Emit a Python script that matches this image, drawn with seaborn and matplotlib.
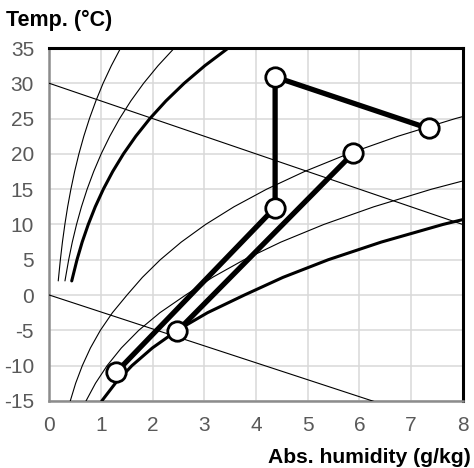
import matplotlib
matplotlib.use("Agg")
import matplotlib.pyplot as plt
import seaborn as sns
import pandas as pd

# ---- data ----
# relative-humidity curves (abs. humidity g/kg vs temperature °C)
t_low = [-15, -12.5, -10, -7.5, -5, -2.5, 0, 2.5, 5, 7.5, 10, 12.5, 15, 17.5, 20, 22.5, 25, 27.5]
rh100_x = [1.016, 1.278, 1.600, 1.994, 2.476, 3.063, 3.775, 4.521, 5.398, 6.423, 7.618, 9.010]
rh70_x = [0.711, 0.894, 1.119, 1.394, 1.731, 2.141, 2.638, 3.158, 3.769, 4.482, 5.313, 6.279, 7.399, 8.695]
rh40_x = [0.406, 0.510, 0.639, 0.796, 0.988, 1.222, 1.504, 1.801, 2.148, 2.553, 3.025, 3.573,
          4.207, 4.939, 5.781, 6.748, 7.857, 9.126]

t_high = [2, 5, 7.5, 10, 12.5, 15, 17.5, 20, 22.5, 25, 27.5, 30, 32.5, 35]
rh10_x = [0.434, 0.536, 0.636, 0.754, 0.889, 1.046, 1.227, 1.435, 1.674, 1.946, 2.257, 2.610, 3.011, 3.465]
rh7_x = [0.303, 0.375, 0.445, 0.527, 0.622, 0.732, 0.859, 1.004, 1.171, 1.361, 1.578, 1.825, 2.105, 2.421]
rh4_x = [0.173, 0.214, 0.254, 0.301, 0.355, 0.418, 0.490, 0.573, 0.668, 0.777, 0.901, 1.041, 1.201, 1.381]

# enthalpy lines
h30_x = [0, 8]
h30_t = [30, 10]
h0_x = [0, 8]
h0_t = [0, -19.2]

# process points
proc1_x = [1.30, 4.37, 4.37, 7.34]
proc1_t = [-10.9, 12.4, 30.9, 23.6]
proc2_x = [2.48, 5.88]
proc2_t = [-5.1, 20.1]

x_ticks = [0, 1, 2, 3, 4, 5, 6, 7, 8]
y_ticks = [-15, -10, -5, 0, 5, 10, 15, 20, 25, 30, 35]

# ---- style ----
sns.set_theme(style="white")
plt.rcParams['font.family'] = ['Liberation Sans', 'DejaVu Sans']

fig = plt.figure(figsize=(4.74, 4.68), dpi=100)
ax = fig.add_axes([49.3 / 474, 1 - 400.9 / 468, (462.7 - 49.3) / 474, (400.9 - 48) / 468])

def curve(xs, ts, lw, z=3):
    n = min(len(xs), len(ts))
    df = pd.DataFrame({"x": xs[:n], "t": ts[:n]})
    sns.lineplot(data=df, x="x", y="t", sort=False, estimator=None, color="black",
                 linewidth=lw, ax=ax, zorder=z)

curve(rh100_x, t_low, 2.2)
curve(rh70_x, t_low, 0.8)
curve(rh40_x, t_low, 0.8)
curve(rh10_x, t_high, 2.2)
curve(rh7_x, t_high, 0.8)
curve(rh4_x, t_high, 0.8)
curve(h30_x, h30_t, 0.8)
curve(h0_x, h0_t, 0.8)

for px, pt in [(proc1_x, proc1_t), (proc2_x, proc2_t)]:
    df = pd.DataFrame({"x": px, "t": pt})
    sns.lineplot(data=df, x="x", y="t", sort=False, estimator=None, color="black",
                 linewidth=3.8, ax=ax, zorder=5, marker="o", markersize=14,
                 markerfacecolor="white", markeredgecolor="black", markeredgewidth=2.0)

ax.set_xlim(0, 8)
ax.set_ylim(-15, 35)
ax.set_xticks(x_ticks)
ax.set_yticks(y_ticks)
ax.set_xticklabels([str(v) for v in x_ticks])
ax.set_yticklabels([str(v) for v in y_ticks])
ax.grid(True, color="#d9d9d9", linewidth=1.1)
ax.set_axisbelow(True)
ax.tick_params(length=0, pad=11, labelsize=15, colors="#595959")
ax.set_xlabel("")
ax.set_ylabel("")

for s in ["top", "right"]:
    ax.spines[s].set_color("black")
    ax.spines[s].set_linewidth(2.2)
for s in ["left", "bottom"]:
    ax.spines[s].set_color("#8c8c8c")
    ax.spines[s].set_linewidth(1.8)

fig.text(6 / 474, 1 - 26 / 468, "Temp. (°C)", fontsize=15.5, fontweight="bold",
         ha="left", va="baseline", color="black")
fig.text(471 / 474, 1 - 462.7 / 468, "Abs. humidity (g/kg)", fontsize=15.2, fontweight="bold",
         ha="right", va="baseline", color="black")

fig.savefig("out.png", dpi=100)
